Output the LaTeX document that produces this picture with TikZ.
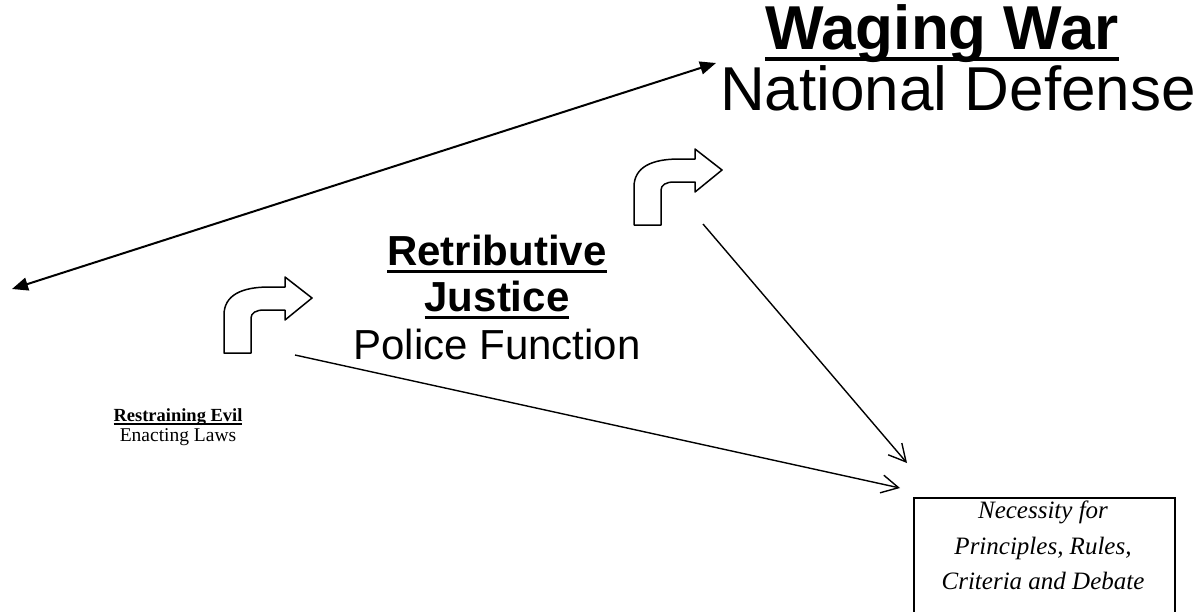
\documentclass[tikz,border=0pt]{standalone}
\usepackage{fontspec}
\setmainfont{Liberation Serif}
\newfontfamily\arialfont{Liberation Sans}
\usetikzlibrary{arrows.meta}
\newcommand{\ultext}[1]{\setbox0\hbox{#1}\rlap{\rule[-0.2em]{\wd0}{0.075em}}\box0}
\tikzset{
  head/.style={inner sep=0,outer sep=0,anchor=base},
  bentarrow/.style={draw,line width=1.5pt,line join=round},
  thinarrow/.style={line width=1.4pt,-{Straight Barb[length=17pt,width=18pt]}},
  bigarrow/.style={line width=2pt,{Triangle[length=16pt,width=13pt]}-{Triangle[length=16pt,width=13pt]}}
}

\begin{document}
\begin{tikzpicture}[x=1pt,y=-1pt]
      \useasboundingbox (0,0) rectangle (1201,611);
      \node[head,font=\arialfont\bfseries\fontsize{62}{70}\selectfont] (war) at (942,49) {\ultext{Waging War}};
      \node[head,font=\arialfont\fontsize{62}{70}\selectfont] (defense) at (958,110) {National Defense};
      \node[head,font=\arialfont\bfseries\fontsize{42}{48}\selectfont] (retrib) at (497,265) {\ultext{Retributive}};
      \node[head,font=\arialfont\bfseries\fontsize{42}{48}\selectfont] (justice) at (497,311) {\ultext{Justice}};
      \node[head,font=\arialfont\fontsize{42}{48}\selectfont] (police) at (497,359) {Police Function};
      \node[head,font=\bfseries\fontsize{18.5}{20}\selectfont] (evil) at (178,421) {\ultext{Restraining Evil}};
      \node[head,font=\fontsize{19.5}{20}\selectfont] (laws) at (178,441) {Enacting Laws};
      \node[draw,line width=1.5pt,anchor=north west,minimum width=261pt,minimum height=150pt,inner sep=0] (box) at (913,497) {};
      \node[inner sep=0,anchor=north,align=center,font=\itshape\fontsize{25}{35.5}\selectfont] (need) at (1043,501) {Necessity for\\Principles, Rules,\\Criteria and Debate};
      % bent arrows
      \foreach \bx/\by in {224/353,634/225}
        {\begin{scope}[shift={(\bx,\by)}]
          \draw[bentarrow] (0,0) -- (27,0) -- (27,-35) .. controls (27,-40) and (32,-43) .. (40,-43)
            -- (61,-43) -- (61,-33) -- (88,-55) -- (61,-76) -- (61,-66) -- (45,-66)
            .. controls (18,-66) and (0,-58) .. (0,-38) -- cycle;
        \end{scope}}
      \coordinate (leftend) at (12,289);
      \coordinate (warend) at (716,63);
      \coordinate (evilstart) at (295,355);
      \coordinate (warstart) at (703,224);
      \coordinate (boxlow) at (900,488);
      \coordinate (boxhigh) at (907,463);
      \draw[bigarrow] (leftend) -- (warend);
      \draw[thinarrow] (evilstart) -- (boxlow);
      \draw[thinarrow] (warstart) -- (boxhigh);
\end{tikzpicture}
\end{document}
